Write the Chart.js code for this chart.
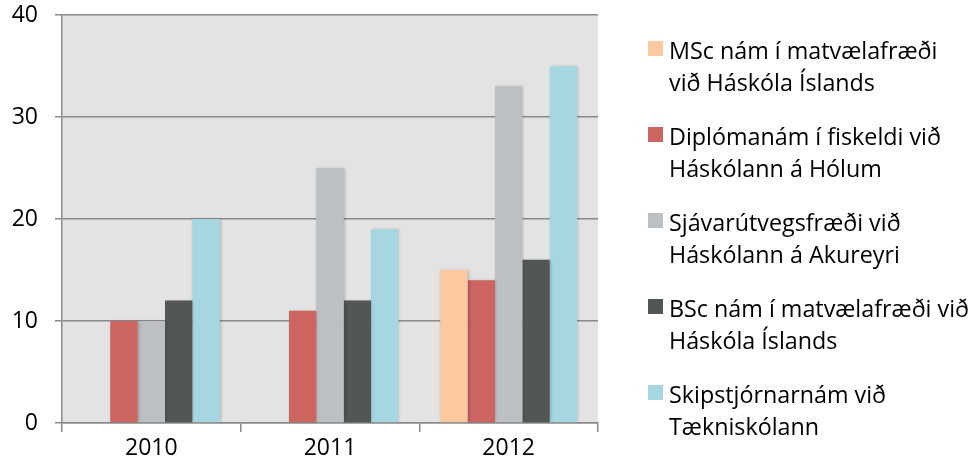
<!DOCTYPE html>
<html>
<head>
<meta charset="utf-8">
<script src="https://cdn.jsdelivr.net/npm/chart.js@4/dist/chart.umd.min.js"></script>
<style>
  body { margin: 0; background: #fff; }
  #wrap { position: relative; width: 974px; height: 472px; }
  #legend { position: absolute; left: 648px; top: 34px; font-family: "Open Sans", sans-serif; font-size: 23.3px; color: #000; }
  .item { position: relative; padding-left: 21px; line-height: 32px; height: 86px; white-space: nowrap; }
  .box { position: absolute; left: 0; top: 7px; width: 15px; height: 15px; }
</style>
</head>
<body>
<div id="wrap">
  <canvas id="chart" width="974" height="472"></canvas>
  <div id="legend"></div>
</div>
<script>
const years = ["2010", "2011", "2012"];
const seriesNames = [
  ["MSc nám í matvælafræði", "við Háskóla Íslands"],
  ["Diplómanám í fiskeldi við", "Háskólann á Hólum"],
  ["Sjávarútvegsfræði við", "Háskólann á Akureyri"],
  ["BSc nám í matvælafræði við", "Háskóla Íslands"],
  ["Skipstjórnarnám við", "Tækniskólann"],
];
const mscFood = [null, null, 15];
const aquaDiploma = [10, 11, 14];
const fisheries = [10, 25, 33];
const bscFood = [12, 12, 16];
const captains = [20, 19, 35];
const colors = ["#fbc89f", "#cc6560", "#bdc0c3", "#525756", "#a6d7e0"];

const seriesValues = [mscFood, aquaDiploma, fisheries, bscFood, captains];
const font = { family: "Open Sans", size: 23 };

const plotBg = {
  id: "plotBg",
  beforeDraw(chart) {
    const a = chart.chartArea;
    const ctx = chart.ctx;
    ctx.save();
    ctx.fillStyle = "#e3e3e3";
    ctx.fillRect(a.left, a.top, a.right - a.left, a.bottom - a.top);
    ctx.restore();
  },
  beforeDatasetsDraw(chart) {
    const ctx = chart.ctx;
    ctx.save();
    ctx.shadowColor = "rgba(0,0,0,0.22)";
    ctx.shadowBlur = 3;
    ctx.shadowOffsetX = 1;
    ctx.shadowOffsetY = 0;
  },
  afterDatasetsDraw(chart) {
    chart.ctx.restore();
  }
};

const chart = new Chart(document.getElementById("chart"), {
  type: "bar",
  data: {
    labels: years,
    datasets: seriesValues.map((vals, i) => ({
      label: seriesNames[i].join(" "),
      data: vals,
      backgroundColor: colors[i],
      borderWidth: 0,
      categoryPercentage: 0.766,
      barPercentage: 1,
    })),
  },
  options: {
    responsive: false,
    animation: false,
    layout: { padding: { top: 15, right: 376, left: 0, bottom: 0 } },
    plugins: { legend: { display: false }, tooltip: { enabled: false } },
    scales: {
      x: {
        grid: { drawOnChartArea: false, offset: true, tickLength: 9, color: "#8a8a8a", lineWidth: 1.5 },
        border: { color: "#8a8a8a", width: 1.5 },
        ticks: { color: "#000", font: font, padding: 3 },
        afterFit(scale) { scale.height = 49; },
      },
      y: {
        min: 0,
        max: 40,
        ticks: { stepSize: 10, color: "#000", font: font, padding: 17 },
        grid: { color: "#8a8a8a", lineWidth: 1.5, tickLength: 7 },
        border: { color: "#8a8a8a", width: 1.5 },
        afterFit(scale) {
          scale.width = 62;
          scale.paddingTop = 0;
          scale.paddingBottom = 0;
        },
      },
    },
  },
  plugins: [plotBg],
});

const legend = document.getElementById("legend");
seriesNames.forEach((lines, i) => {
  const item = document.createElement("div");
  item.className = "item";
  const box = document.createElement("span");
  box.className = "box";
  box.style.background = colors[i];
  item.appendChild(box);
  lines.forEach(t => {
    const d = document.createElement("div");
    d.textContent = t;
    item.appendChild(d);
  });
  legend.appendChild(item);
});
</script>
</body>
</html>
